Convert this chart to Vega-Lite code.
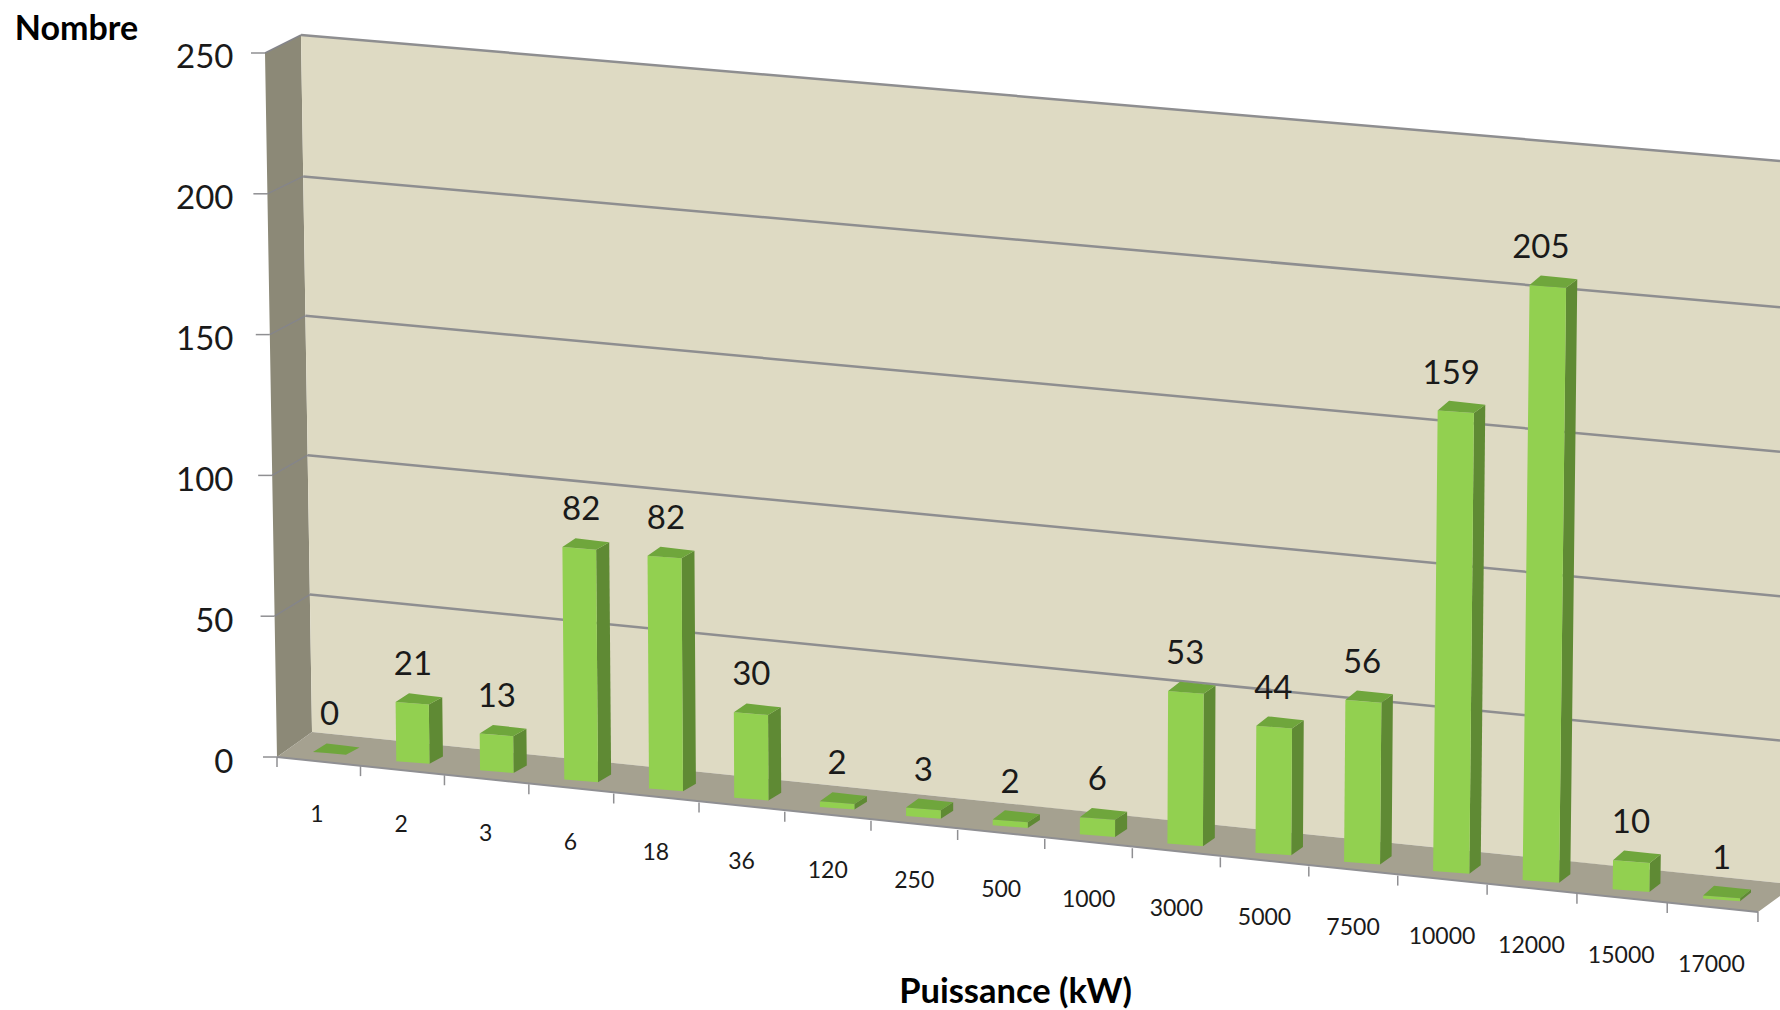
{
"$schema":"https://vega.github.io/schema/vega-lite/v6.json",
"width":1528,"height":1010,"autosize":{"type":"none"},
"padding":{"left":252,"top":0,"right":0,"bottom":0},
"background":"#ffffff",
"config":{"view":{"stroke":null},"font":"Lato"},
"datasets":{
"barres":[
{"puissance":"1","nombre":0},{"puissance":"2","nombre":21},{"puissance":"3","nombre":13},{"puissance":"6","nombre":82},{"puissance":"18","nombre":82},{"puissance":"36","nombre":30},{"puissance":"120","nombre":2},{"puissance":"250","nombre":3},{"puissance":"500","nombre":2},{"puissance":"1000","nombre":6},{"puissance":"3000","nombre":53},{"puissance":"5000","nombre":44},{"puissance":"7500","nombre":56},{"puissance":"10000","nombre":159},{"puissance":"12000","nombre":205},{"puissance":"15000","nombre":10},{"puissance":"17000","nombre":1}],
"cadre":[
{"face":"lateral","xp":0.153,"yp":250,"yp2":250},{"face":"lateral","xp":0.294,"yp":252.1,"yp2":0},{"face":"lateral","xp":0.576,"yp":256.39,"yp2":6.04},{"face":"lateral","xp":0.706,"yp":8.88,"yp2":8.88},
{"face":"fond","xp":0.576,"yp":256.39,"yp2":256.39},{"face":"fond","xp":0.706,"yp":256.04,"yp2":8.88},{"face":"fond","xp":17.976,"yp":211.65,"yp2":-44.74},
{"face":"sol","xp":0.294,"yp":0,"yp2":0},{"face":"sol","xp":0.706,"yp":8.88,"yp2":-1.3},{"face":"sol","xp":17.718,"yp":-43.9,"yp2":-55.04},{"face":"sol","xp":17.976,"yp":-44.74,"yp2":-49.36}],
"niveaux":[{"v":0},{"v":50},{"v":100},{"v":150},{"v":200},{"v":250}],
"graduations":[{"j":0},{"j":1},{"j":2},{"j":3},{"j":4},{"j":5},{"j":6},{"j":7},{"j":8},{"j":9},{"j":10},{"j":11},{"j":12},{"j":13},{"j":14},{"j":15},{"j":16},{"j":17}]
},
"data":{"name":"barres"},
"transform":[
{"window":[{"op":"row_number","as":"n"}]},
{"calculate":"datum.n-1","as":"i"},
{"calculate":"0.7176+0.97694*datum.i+0.002824*datum.i*datum.i","as":"g"},
{"calculate":"0.388+0.00294*datum.i","as":"w"},
{"calculate":"1.78-3.25*datum.i","as":"b"},
{"calculate":"datum.nombre*(1+0.0022*datum.i)","as":"H"},
{"calculate":"datum.b+datum.H","as":"h"},
{"calculate":"0.16-0.002*datum.i","as":"d"},
{"calculate":"2.6+0.03*datum.i","as":"r"},
{"calculate":"-0.000447+0.0000596*datum.i","as":"T"}
],
"encoding":{
"x":{"field":"xp","type":"quantitative","scale":{"domain":[0,17.976],"nice":false,"zero":false},
"axis":{"title":"Puissance (kW)","labels":false,"ticks":false,"domain":false,"grid":false,"titleFont":"Lato","titleFontSize":34.5,"titleFontWeight":"bold","titleColor":"#000000","titleX":763,"titleY":-18,"titleAnchor":"middle","titleBaseline":"middle","titleAlign":"center"}},
"y":{"field":"yp","type":"quantitative","scale":{"domain":[-89.84,268.82],"nice":false,"zero":false},
"axis":{"title":"Nombre","values":[0,50,100,150,200,250],"ticks":false,"domain":false,"grid":false,"labelPadding":19,"labelOffset":5,"labelFont":"Lato","labelFontSize":33,"labelColor":"#1a1a1a","titleFont":"Lato","titleFontSize":34,"titleFontWeight":"bold","titleColor":"#000000","titleAngle":0,"titleX":-176,"titleY":29,"titleAlign":"center","titleBaseline":"middle"}}
},
"layer":[
{"data":{"name":"cadre"},"transform":[{"filter":"datum.face==='lateral'"}],"mark":{"type":"area","color":"#8c8977"},"encoding":{"y2":{"field":"yp2"}}},
{"data":{"name":"cadre"},"transform":[{"filter":"datum.face==='fond'"}],"mark":{"type":"area","color":"#dedac3"},"encoding":{"y2":{"field":"yp2"}}},
{"data":{"name":"cadre"},"transform":[{"filter":"datum.face==='sol'"}],"mark":{"type":"area","color":"#a5a190"},"encoding":{"y2":{"field":"yp2"}}},
{"data":{"name":"niveaux"},"transform":[{"filter":"datum.v>0"},{"calculate":"(60-0.044*datum.v)/85","as":"xp"},{"calculate":"8.88+0.99*datum.v-(datum.v<250?0.7:0)","as":"yp"},{"calculate":"17.976","as":"xp2"},{"calculate":"-44.74+1.0256*datum.v-(datum.v<250?0.7:0)","as":"yp2"}],"mark":{"type":"rule","color":"#8e8e90","strokeWidth":2.5},"encoding":{"x2":{"field":"xp2"},"y2":{"field":"yp2"}}},
{"data":{"name":"niveaux"},"transform":[{"filter":"datum.v>0"},{"calculate":"(25-0.048*datum.v)/85","as":"xp"},{"calculate":"datum.v","as":"yp"},{"calculate":"(60-0.044*datum.v)/85","as":"xp2"},{"calculate":"8.88+0.99*datum.v-(datum.v<250?0.7:0)","as":"yp2"}],"mark":{"type":"rule","color":"#85858a","strokeWidth":1.5},"encoding":{"x2":{"field":"xp2"},"y2":{"field":"yp2"}}},
{"data":{"name":"niveaux"},"transform":[{"calculate":"(25-0.048*datum.v)/85","as":"xp2"},{"calculate":"datum.xp2-0.165","as":"xp"},{"calculate":"datum.v","as":"yp"}],"mark":{"type":"rule","color":"#8f8f92","strokeWidth":1.5},"encoding":{"x2":{"field":"xp2"}}},
{"data":{"name":"graduations"},"transform":[{"filter":"datum.j===0"},{"calculate":"0.294","as":"xp"},{"calculate":"0","as":"yp"},{"calculate":"17.718","as":"xp2"},{"calculate":"-55.04","as":"yp2"}],"mark":{"type":"rule","color":"#8f8f92","strokeWidth":2},"encoding":{"x2":{"field":"xp2"},"y2":{"field":"yp2"}}},
{"data":{"name":"graduations"},"transform":[{"calculate":"0.2941+0.97965*datum.j+0.002659*datum.j*datum.j","as":"xp"},{"calculate":"-3.239*datum.j","as":"yp"},{"calculate":"datum.yp-3.55","as":"yp2"}],"mark":{"type":"rule","color":"#8f8f92","strokeWidth":1.5},"encoding":{"y2":{"field":"yp2"}}},
{"transform":[{"filter":"datum.nombre<10"},{"calculate":"[0,1]","as":"c"},{"flatten":["c"]},{"calculate":"datum.g+datum.w+datum.c*datum.d","as":"xp"},{"calculate":"datum.h-0.96+datum.c*datum.r","as":"yp"},{"calculate":"datum.b-0.96+datum.c*datum.r","as":"yp2"}],"mark":{"type":"area","color":"#5f8a34"},"encoding":{"y2":{"field":"yp2"},"detail":{"field":"puissance"}}},
{"transform":[{"filter":"datum.nombre>=10"},{"calculate":"[0,1,2,3]","as":"c"},{"flatten":["c"]},
{"calculate":"[datum.h-0.96+datum.r,datum.h-0.96,datum.b-0.96+datum.r,datum.b-0.96][datum.c]","as":"yp"},
{"calculate":"[datum.g+datum.w+datum.T*datum.H+datum.d,datum.g+datum.w+datum.T*datum.H,datum.g+datum.w+datum.T*datum.r,datum.g+datum.w][datum.c]","as":"xp"},
{"calculate":"[datum.g+datum.w+datum.T*datum.H+datum.d,datum.g+datum.w+datum.T*datum.H+datum.d-datum.T*datum.r,datum.g+datum.w+datum.d,datum.g+datum.w][datum.c]","as":"xp2"}],
"mark":{"type":"area","color":"#5f8a34","orient":"horizontal"},"encoding":{"x2":{"field":"xp2"},"detail":{"field":"puissance"}}},
{"transform":[{"filter":"datum.nombre>0"},{"calculate":"[0,1,2,3]","as":"c"},{"flatten":["c"]},
{"calculate":"[datum.h,datum.h-0.96,datum.b,datum.b-0.96][datum.c]","as":"yp"},
{"calculate":"[datum.g+datum.T*datum.H,datum.g+datum.T*(datum.H-0.96),datum.g,datum.g+datum.w][datum.c]","as":"xp"},
{"calculate":"[datum.g+datum.T*datum.H,datum.g+datum.w+datum.T*datum.H,datum.g+datum.w+datum.T*0.96,datum.g+datum.w][datum.c]","as":"xp2"}],
"mark":{"type":"area","color":"#92d050","orient":"horizontal"},"encoding":{"x2":{"field":"xp2"},"detail":{"field":"puissance"}}},
{"transform":[{"calculate":"[0,1,2,3]","as":"c"},{"flatten":["c"]},{"calculate":"datum.g+datum.T*datum.H","as":"gt"},{"calculate":"[datum.gt,datum.gt+datum.d,datum.gt+datum.w,datum.gt+datum.w+datum.d][datum.c]","as":"xp"},{"calculate":"[datum.h,datum.h+datum.r+0.4,datum.h+datum.r+0.4-1.36*(datum.w-datum.d)/datum.w,datum.h-0.96+datum.r][datum.c]","as":"yp"},{"calculate":"[datum.h,datum.h-0.96*datum.d/datum.w,datum.h-0.96,datum.h-0.96+datum.r][datum.c]","as":"yp2"}],"mark":{"type":"area","color":"#6fa63c"},"encoding":{"y2":{"field":"yp2"},"detail":{"field":"puissance"}}},
{"transform":[{"calculate":"datum.g+datum.w/2","as":"xp"},{"calculate":"datum.h+13.1","as":"yp"}],"mark":{"type":"text","font":"Lato","fontSize":33,"color":"#1a1a1a","baseline":"middle","align":"center"},"encoding":{"text":{"field":"nombre","type":"quantitative"}}},
{"transform":[{"calculate":"0.7647+0.98706*datum.i+0.002388*datum.i*datum.i","as":"xp"},{"calculate":"-20.64-3.33*datum.i","as":"yp"}],"mark":{"type":"text","font":"Lato","fontSize":23,"color":"#1a1a1a","baseline":"middle","align":"center"},"encoding":{"text":{"field":"puissance","type":"nominal"}}}
]
}
